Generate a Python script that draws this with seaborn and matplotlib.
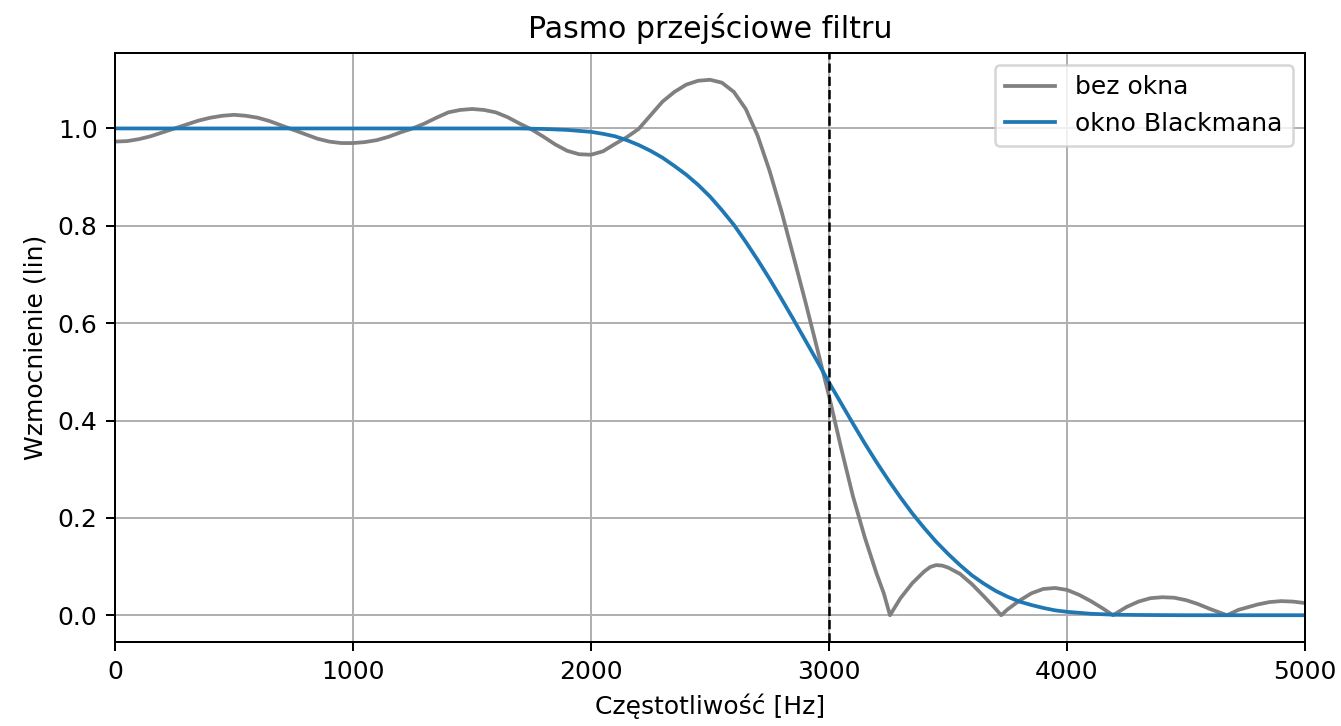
import matplotlib
matplotlib.use("Agg")
import matplotlib.pyplot as plt
import seaborn as sns
import pandas as pd

# Magnitude response of the low-pass FIR filter (linear gain)
freq_rect = [0, 50, 100, 150, 200, 250, 300, 350, 400, 450, 500, 550, 600,
             650, 700, 750, 800, 850, 900, 950, 1000, 1050, 1100, 1150, 1200,
             1250, 1300, 1350, 1400, 1450, 1500, 1550, 1600, 1650, 1700, 1750,
             1800, 1850, 1900, 1950, 2000, 2050, 2100, 2150, 2200, 2250, 2300,
             2350, 2400, 2450, 2500, 2550, 2600, 2650, 2700, 2750, 2800,
             2850, 2900, 2950, 3000, 3050, 3100, 3150, 3200, 3230, 3256, 3300,
             3350, 3400, 3425, 3450, 3475, 3500, 3550, 3600, 3650, 3700, 3723,
             3750, 3800, 3850, 3900, 3950, 4000, 4050, 4100, 4150, 4193, 4250,
             4300, 4350, 4400, 4450, 4500, 4550, 4600, 4672, 4720, 4800, 4850,
             4900, 4950, 5000]
gain_rect = [0.973, 0.974, 0.978, 0.984, 0.992, 1.000, 1.008, 1.016, 1.022,
             1.026, 1.028, 1.026, 1.022, 1.015, 1.006, 0.997, 0.988, 0.979,
             0.973, 0.970, 0.970, 0.972, 0.976, 0.983, 0.992, 1.000, 1.010,
             1.022, 1.033, 1.038, 1.040, 1.038, 1.033, 1.023, 1.010, 0.998,
             0.983, 0.967, 0.954, 0.947, 0.946, 0.953, 0.968, 0.982, 0.999,
             1.027, 1.055, 1.075, 1.090, 1.098, 1.100, 1.094, 1.075, 1.040,
             0.985, 0.913, 0.830, 0.738, 0.645, 0.548, 0.450, 0.345,
             0.245, 0.160, 0.085, 0.045, 0.000, 0.035, 0.066, 0.090, 0.099,
             0.103, 0.102, 0.098, 0.085, 0.064, 0.039, 0.013, 0.000, 0.012,
             0.030, 0.045, 0.054, 0.056, 0.052, 0.042, 0.029, 0.014, 0.000,
             0.017, 0.028, 0.035, 0.037, 0.036, 0.031, 0.023, 0.013, 0.000,
             0.011, 0.022, 0.027, 0.029, 0.028, 0.025]

freq_black = [0, 500, 1000, 1500, 1700, 1800, 1900, 2000, 2050, 2100, 2150,
              2200, 2250, 2300, 2350, 2400, 2450, 2500, 2550, 2600, 2650, 2700,
              2750, 2800, 2850, 2900, 2950, 3000, 3050, 3100, 3150, 3200, 3250,
              3300, 3350, 3400, 3450, 3500, 3550, 3600, 3650, 3700, 3750, 3800,
              3850, 3900, 3950, 4000, 4100, 4200, 4300, 4500, 5000]
gain_black = [1.000, 1.000, 1.000, 1.000, 1.000, 0.999, 0.997, 0.993, 0.989,
              0.984, 0.976, 0.966, 0.954, 0.940, 0.923, 0.905, 0.884, 0.860,
              0.832, 0.802, 0.767, 0.730, 0.691, 0.650, 0.608, 0.565, 0.522,
              0.478, 0.436, 0.394, 0.353, 0.314, 0.277, 0.242, 0.209, 0.179,
              0.151, 0.126, 0.103, 0.082, 0.065, 0.050, 0.038, 0.028, 0.021,
              0.015, 0.010, 0.007, 0.003, 0.001, 0.0005, 0.000, 0.000]

cutoff = 3000

df_rect = pd.DataFrame({"f": freq_rect, "h": gain_rect})
df_black = pd.DataFrame({"f": freq_black, "h": gain_black})

fig = plt.figure(figsize=(1341 / 180, 726 / 180), dpi=180)
ax = fig.add_axes([0.0858, 0.1157, 0.8874, 0.8113])

sns.lineplot(data=df_rect, x="f", y="h", ax=ax, color="gray", lw=1.5,
             estimator=None, label="bez okna")
sns.lineplot(data=df_black, x="f", y="h", ax=ax, color="C0", lw=1.5,
             estimator=None, label="okno Blackmana")
ax.axvline(cutoff, color="k", ls="--", lw=1)

ax.set_xlim(0, 5000)
ax.set_ylim(-0.055, 1.155)
ax.set_xticks([0, 1000, 2000, 3000, 4000, 5000])
ax.set_yticks([0.0, 0.2, 0.4, 0.6, 0.8, 1.0])
ax.grid(True, color="#b0b0b0", lw=0.8)
ax.set_axisbelow(True)
ax.set_title("Pasmo przejściowe filtru", fontsize=12)
ax.set_xlabel("Częstotliwość [Hz]")
ax.set_ylabel("Wzmocnienie (lin)")
ax.legend(loc="upper right")

fig.savefig("out.png", dpi=180)
